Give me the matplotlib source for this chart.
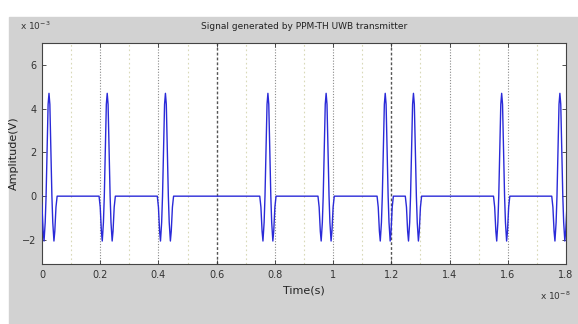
import matplotlib
matplotlib.use("Agg")
import matplotlib.pyplot as plt
import numpy as np
from matplotlib.patches import Rectangle

# time in units of 1e-8 s, amplitude in units of 1e-3 V
pulse_peaks = [0.024, 0.224, 0.424, 0.776, 0.976, 1.179, 1.276, 1.579, 1.779]
# one pulse (offset from peak, amplitude)
shape_dt = [-0.028, -0.024, -0.020, -0.017, -0.013, -0.010, -0.006, -0.003, 0.0,
            0.003, 0.006, 0.010, 0.013, 0.017, 0.020, 0.024, 0.028]
shape_amp = [0.0, -0.5, -1.6, -2.05, -1.2, 0.0, 2.4, 4.2, 4.7,
             4.2, 2.4, 0.0, -1.2, -2.05, -1.6, -0.5, 0.0]

grid_lines = [0.2, 0.4, 0.8, 1.0, 1.4, 1.6]
frame_lines = [0.6, 1.2]
chip_lines = [0.1, 0.3, 0.5, 0.7, 0.9, 1.1, 1.3, 1.5, 1.7]

x_ticks = [0, 0.2, 0.4, 0.6, 0.8, 1.0, 1.2, 1.4, 1.6, 1.8]
x_labels = ["0", "0.2", "0.4", "0.6", "0.8", "1", "1.2", "1.4", "1.6", "1.8"]
y_ticks = [-2, 0, 2, 4, 6]

t = [0.0]
v = [0.0]
for p in pulse_peaks:
    t += [p + d for d in shape_dt]
    v += shape_amp
t.append(1.85)
v.append(0.0)

plt.rcParams['font.family'] = ['Liberation Sans Narrow', 'DejaVu Sans']

W, H = 578, 324
fig = plt.figure(figsize=(W / 100, H / 100), dpi=100, facecolor="white")
fig.patches.append(Rectangle((9 / W, 0), 1 - 9 / W, 1 - 17 / H,
                             transform=fig.transFigure, color="#d2d2d2", zorder=-1))

ax = fig.add_axes([42 / W, 1 - 264 / H, (566 - 42) / W, (264 - 43) / H])
ax.set_facecolor("white")

for x in chip_lines:
    ax.axvline(x, color="#d9d9b8", ls=(0, (1.5, 2.5)), lw=0.8, zorder=1)
for x in grid_lines:
    ax.axvline(x, color="#8a8a8a", ls=(0, (1, 1.5)), lw=0.8, zorder=1)
for x in frame_lines:
    ax.axvline(x, color="#555555", ls=(0, (2, 1.5)), lw=1.0, zorder=1)

ax.plot(t, v, color="#2a2ad8", lw=1.0, zorder=3)

ax.set_xlim(0, 1.8)
ax.set_ylim(-3.1, 7)
ax.set_xticks(x_ticks)
ax.set_xticklabels(x_labels)
ax.set_yticks(y_ticks)
ax.tick_params(direction="in", top=True, right=True, length=3, width=0.6,
               labelsize=7, colors="#333333", pad=4)
for s in ax.spines.values():
    s.set_color("#444444")
    s.set_linewidth(0.8)

ax.set_title("Signal generated by PPM-TH UWB transmitter", fontsize=6.5, pad=10,
             color="#222222")
ax.set_xlabel("Time(s)", fontsize=8, labelpad=4, color="#222222")
ax.set_ylabel("Amplitude(V)", fontsize=8, labelpad=2, color="#222222")

fig.text(20 / W, 1 - 30 / H, r"x 10$^{-3}$", fontsize=6.5, color="#333333")
fig.text(540 / W, 1 - 300 / H, r"x 10$^{-8}$", fontsize=6.5, color="#333333")

fig.savefig("out.png", dpi=100, facecolor=fig.get_facecolor())
